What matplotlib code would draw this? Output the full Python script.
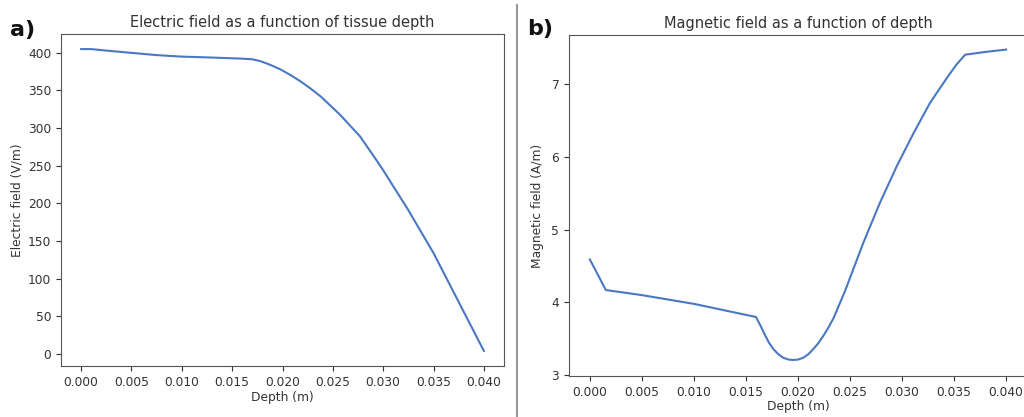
import numpy as np
import matplotlib
matplotlib.use("Agg")
import matplotlib.pyplot as plt
from matplotlib.lines import Line2D

# Electric field vs depth (panel a)
depth_e = [0.0, 0.001, 0.0025, 0.005, 0.0075, 0.010, 0.0125, 0.0158, 0.017, 0.0178,
           0.0188, 0.0198, 0.0208, 0.0218, 0.0228, 0.0238, 0.0257, 0.0277, 0.0292,
           0.030, 0.0325, 0.035, 0.0375, 0.040]
efield = [405, 405, 403, 400, 397, 395, 394, 392.4, 391.5, 389,
          384, 378, 370.5, 362, 352.5, 342, 318, 289, 260,
          244, 191, 134, 69, 4]

# Magnetic field vs depth (panel b)
depth_h = [0.0, 0.00154, 0.005, 0.010, 0.01596, 0.0164, 0.0168, 0.0172, 0.01763,
           0.0181, 0.01859, 0.0191, 0.01955, 0.0200, 0.0205, 0.0210, 0.02147,
           0.02195, 0.02243, 0.0229, 0.0234, 0.0245, 0.02628, 0.02788, 0.02949,
           0.03109, 0.03269, 0.0343, 0.0352, 0.03606, 0.03814, 0.040]
hfield = [4.59, 4.17, 4.10, 3.98, 3.80, 3.68, 3.56, 3.45, 3.36,
          3.29, 3.24, 3.215, 3.21, 3.215, 3.24, 3.29, 3.36,
          3.44, 3.54, 3.65, 3.78, 4.15, 4.82, 5.37, 5.87,
          6.32, 6.74, 7.08, 7.26, 7.40, 7.44, 7.47]

W, H = 1024, 417
fig = plt.figure(figsize=(W / 100, H / 100), dpi=100)

line_color = "#4a78c2"
text_color = "#333333"
plt.rcParams["font.family"] = "DejaVu Sans"

def px_axes(left, top, right, bottom):
    return fig.add_axes([left / W, 1 - bottom / H, (right - left) / W, (bottom - top) / H])

ax1 = px_axes(61, 34, 504, 366)
ax1.plot(depth_e, efield, color=line_color, lw=1.5)
ax1.set_title("Electric field as a function of tissue depth", fontsize=10.5, color=text_color, pad=5)
ax1.set_xlabel("Depth (m)", fontsize=8.8, color=text_color, labelpad=2)
ax1.set_ylabel("Electric field (V/m)", fontsize=8.8, color=text_color, labelpad=3)
ax1.set_xticks(np.arange(0, 0.0401, 0.005))
ax1.set_yticks(np.arange(0, 401, 50))

ax2 = px_axes(569, 35, 1027, 376)
ax2.plot(depth_h, hfield, color=line_color, lw=1.5)
ax2.set_title("Magnetic field as a function of depth", fontsize=10.5, color=text_color, pad=5)
ax2.set_xlabel("Depth (m)", fontsize=8.8, color=text_color, labelpad=1)
ax2.set_ylabel("Magnetic field (A/m)", fontsize=8.8, color=text_color, labelpad=5)
ax2.set_xticks(np.arange(0, 0.0401, 0.005))
ax2.set_yticks([3, 4, 5, 6, 7])
ax2.set_ylim(2.99, 7.67)

for ax in (ax1, ax2):
    ax.tick_params(labelsize=8.8, colors=text_color, length=3.5)
    for s in ax.spines.values():
        s.set_color("#555555")
    ax.xaxis.set_major_formatter(matplotlib.ticker.FormatStrFormatter("%.3f"))

fig.text(10 / W, 1 - 36 / H, "a)", fontsize=16, fontweight="bold", color="#111111")
fig.text(527 / W, 1 - 35 / H, "b)", fontsize=16, fontweight="bold", color="#111111")

fig.add_artist(Line2D([517 / W, 517 / W], [0, 1 - 5 / H], transform=fig.transFigure,
                      color="#999999", lw=1.5))

fig.savefig("out.png", dpi=100)
